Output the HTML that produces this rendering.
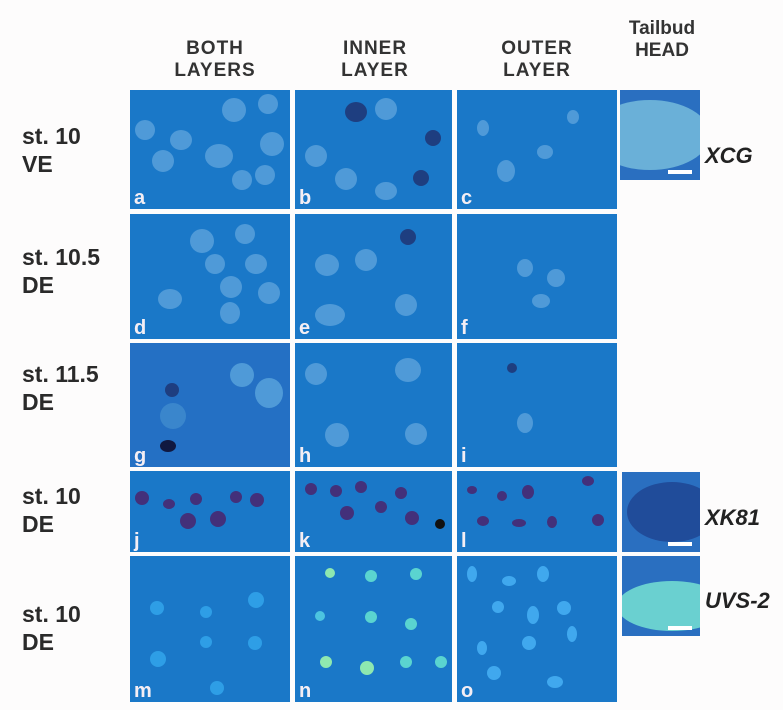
<!DOCTYPE html>
<html><head><meta charset="utf-8"><style>
body{margin:0;width:783px;height:710px;background:#fdfcfc;position:relative;overflow:hidden;font-family:"Liberation Sans",sans-serif;}
.h{position:absolute;font-weight:bold;font-size:19px;line-height:22px;text-align:center;color:#333;letter-spacing:1px}
.r{position:absolute;left:22px;font-weight:bold;font-size:23px;line-height:28px;color:#2a2a2a}
.p{position:absolute;background:#1a78c8;overflow:hidden}
.p .c{position:absolute;border-radius:50%}
.l{position:absolute;left:4px;bottom:0;color:#f4eef4;font-weight:bold;font-size:20px;line-height:22px}
.g{position:absolute;font-weight:bold;font-style:italic;font-size:22px;color:#222}
.sb{position:absolute;right:8px;bottom:6px;width:24px;height:4px;background:#fff}
</style></head><body>
<div class="h" style="left:150px;top:38px;width:130px">BOTH<br>LAYERS</div>
<div class="h" style="left:310px;top:38px;width:130px">INNER<br>LAYER</div>
<div class="h" style="left:472px;top:38px;width:130px">OUTER<br>LAYER</div>
<div class="h" style="left:612px;top:18px;width:100px;letter-spacing:0">Tailbud<br>HEAD</div>

<div class="r" style="top:122px">st. 10<br>VE</div>
<div class="r" style="top:243px">st. 10.5<br>DE</div>
<div class="r" style="top:360px">st. 11.5<br>DE</div>
<div class="r" style="top:482px">st. 10<br>DE</div>
<div class="r" style="top:600px">st. 10<br>DE</div>

<!-- row 1 -->
<div class="p" style="left:130px;top:90px;width:160px;height:119px">
<div class="c" style="left:5px;top:30px;width:20px;height:20px;background:#4f9ad8"></div>
<div class="c" style="left:40px;top:40px;width:22px;height:20px;background:#4f9ad8"></div>
<div class="c" style="left:22px;top:60px;width:22px;height:22px;background:#4f9ad8"></div>
<div class="c" style="left:75px;top:54px;width:28px;height:24px;background:#4f9ad8"></div>
<div class="c" style="left:92px;top:8px;width:24px;height:24px;background:#4f9ad8"></div>
<div class="c" style="left:128px;top:4px;width:20px;height:20px;background:#4f9ad8"></div>
<div class="c" style="left:130px;top:42px;width:24px;height:24px;background:#4f9ad8"></div>
<div class="c" style="left:102px;top:80px;width:20px;height:20px;background:#4f9ad8"></div>
<div class="c" style="left:125px;top:75px;width:20px;height:20px;background:#4f9ad8"></div>
<div class="l">a</div></div>
<div class="p" style="left:295px;top:90px;width:157px;height:119px">
<div class="c" style="left:50px;top:12px;width:22px;height:20px;background:#1e3e80"></div>
<div class="c" style="left:80px;top:8px;width:22px;height:22px;background:#4f9ad8"></div>
<div class="c" style="left:10px;top:55px;width:22px;height:22px;background:#4f9ad8"></div>
<div class="c" style="left:40px;top:78px;width:22px;height:22px;background:#4f9ad8"></div>
<div class="c" style="left:130px;top:40px;width:16px;height:16px;background:#1e3e80"></div>
<div class="c" style="left:118px;top:80px;width:16px;height:16px;background:#1e3e80"></div>
<div class="c" style="left:80px;top:92px;width:22px;height:18px;background:#4f9ad8"></div>
<div class="l">b</div></div>
<div class="p" style="left:457px;top:90px;width:160px;height:119px">
<div class="c" style="left:20px;top:30px;width:12px;height:16px;background:#4f9ad8"></div>
<div class="c" style="left:40px;top:70px;width:18px;height:22px;background:#4f9ad8"></div>
<div class="c" style="left:80px;top:55px;width:16px;height:14px;background:#4f9ad8"></div>
<div class="c" style="left:110px;top:20px;width:12px;height:14px;background:#4f9ad8"></div>
<div class="l">c</div></div>
<div class="p" style="left:620px;top:90px;width:80px;height:90px;background:#2a6fc0">
<div class="c" style="left:-30px;top:10px;width:120px;height:70px;background:#6ab0d8"></div>
<div class="sb"></div></div>
<div class="g" style="left:705px;top:143px">XCG</div>

<!-- row 2 -->
<div class="p" style="left:130px;top:214px;width:160px;height:125px">
<div class="c" style="left:60px;top:15px;width:24px;height:24px;background:#4f9ad8"></div>
<div class="c" style="left:105px;top:10px;width:20px;height:20px;background:#4f9ad8"></div>
<div class="c" style="left:75px;top:40px;width:20px;height:20px;background:#4f9ad8"></div>
<div class="c" style="left:115px;top:40px;width:22px;height:20px;background:#4f9ad8"></div>
<div class="c" style="left:90px;top:62px;width:22px;height:22px;background:#4f9ad8"></div>
<div class="c" style="left:128px;top:68px;width:22px;height:22px;background:#4f9ad8"></div>
<div class="c" style="left:28px;top:75px;width:24px;height:20px;background:#4f9ad8"></div>
<div class="c" style="left:90px;top:88px;width:20px;height:22px;background:#4f9ad8"></div>
<div class="l">d</div></div>
<div class="p" style="left:295px;top:214px;width:157px;height:125px">
<div class="c" style="left:20px;top:40px;width:24px;height:22px;background:#4f9ad8"></div>
<div class="c" style="left:60px;top:35px;width:22px;height:22px;background:#4f9ad8"></div>
<div class="c" style="left:105px;top:15px;width:16px;height:16px;background:#1e3e80"></div>
<div class="c" style="left:20px;top:90px;width:30px;height:22px;background:#4f9ad8"></div>
<div class="c" style="left:100px;top:80px;width:22px;height:22px;background:#4f9ad8"></div>
<div class="l">e</div></div>
<div class="p" style="left:457px;top:214px;width:160px;height:125px">
<div class="c" style="left:60px;top:45px;width:16px;height:18px;background:#4f9ad8"></div>
<div class="c" style="left:90px;top:55px;width:18px;height:18px;background:#4f9ad8"></div>
<div class="c" style="left:75px;top:80px;width:18px;height:14px;background:#4f9ad8"></div>
<div class="l">f</div></div>

<!-- row 3 -->
<div class="p" style="left:130px;top:343px;width:160px;height:124px;background:#2470c4">
<div class="c" style="left:100px;top:20px;width:24px;height:24px;background:#4f9ad8"></div>
<div class="c" style="left:125px;top:35px;width:28px;height:30px;background:#4f9ad8"></div>
<div class="c" style="left:35px;top:40px;width:14px;height:14px;background:#1e3e80"></div>
<div class="c" style="left:30px;top:97px;width:16px;height:12px;background:#101840"></div>
<div class="c" style="left:30px;top:60px;width:26px;height:26px;background:#3a86cc"></div>
<div class="l">g</div></div>
<div class="p" style="left:295px;top:343px;width:157px;height:124px">
<div class="c" style="left:10px;top:20px;width:22px;height:22px;background:#4f9ad8"></div>
<div class="c" style="left:100px;top:15px;width:26px;height:24px;background:#4f9ad8"></div>
<div class="c" style="left:30px;top:80px;width:24px;height:24px;background:#4f9ad8"></div>
<div class="c" style="left:110px;top:80px;width:22px;height:22px;background:#4f9ad8"></div>
<div class="l">h</div></div>
<div class="p" style="left:457px;top:343px;width:160px;height:124px">
<div class="c" style="left:50px;top:20px;width:10px;height:10px;background:#1e3e80"></div>
<div class="c" style="left:60px;top:70px;width:16px;height:20px;background:#4f9ad8"></div>
<div class="l">i</div></div>

<!-- row 4 -->
<div class="p" style="left:130px;top:471px;width:160px;height:81px">
<div class="c" style="left:5px;top:20px;width:14px;height:14px;background:#43307a"></div>
<div class="c" style="left:33px;top:28px;width:12px;height:10px;background:#43307a"></div>
<div class="c" style="left:60px;top:22px;width:12px;height:12px;background:#43307a"></div>
<div class="c" style="left:50px;top:42px;width:16px;height:16px;background:#43307a"></div>
<div class="c" style="left:80px;top:40px;width:16px;height:16px;background:#43307a"></div>
<div class="c" style="left:100px;top:20px;width:12px;height:12px;background:#43307a"></div>
<div class="c" style="left:120px;top:22px;width:14px;height:14px;background:#43307a"></div>
<div class="l">j</div></div>
<div class="p" style="left:295px;top:471px;width:157px;height:81px">
<div class="c" style="left:10px;top:12px;width:12px;height:12px;background:#43307a"></div>
<div class="c" style="left:35px;top:14px;width:12px;height:12px;background:#43307a"></div>
<div class="c" style="left:60px;top:10px;width:12px;height:12px;background:#43307a"></div>
<div class="c" style="left:45px;top:35px;width:14px;height:14px;background:#43307a"></div>
<div class="c" style="left:80px;top:30px;width:12px;height:12px;background:#43307a"></div>
<div class="c" style="left:100px;top:16px;width:12px;height:12px;background:#43307a"></div>
<div class="c" style="left:110px;top:40px;width:14px;height:14px;background:#43307a"></div>
<div class="c" style="left:140px;top:48px;width:10px;height:10px;background:#111"></div>
<div class="l">k</div></div>
<div class="p" style="left:457px;top:471px;width:160px;height:81px">
<div class="c" style="left:10px;top:15px;width:10px;height:8px;background:#43307a"></div>
<div class="c" style="left:40px;top:20px;width:10px;height:10px;background:#43307a"></div>
<div class="c" style="left:65px;top:14px;width:12px;height:14px;background:#43307a"></div>
<div class="c" style="left:125px;top:5px;width:12px;height:10px;background:#43307a"></div>
<div class="c" style="left:20px;top:45px;width:12px;height:10px;background:#43307a"></div>
<div class="c" style="left:55px;top:48px;width:14px;height:8px;background:#43307a"></div>
<div class="c" style="left:90px;top:45px;width:10px;height:12px;background:#43307a"></div>
<div class="c" style="left:135px;top:43px;width:12px;height:12px;background:#43307a"></div>
<div class="l">l</div></div>
<div class="p" style="left:622px;top:472px;width:78px;height:80px;background:#2a6fc0">
<div class="c" style="left:5px;top:10px;width:90px;height:60px;background:#204c9a"></div>
<div class="sb"></div></div>
<div class="g" style="left:705px;top:505px">XK81</div>

<!-- row 5 -->
<div class="p" style="left:130px;top:556px;width:160px;height:146px">
<div class="c" style="left:20px;top:45px;width:14px;height:14px;background:#2e9ee6"></div>
<div class="c" style="left:70px;top:50px;width:12px;height:12px;background:#2e9ee6"></div>
<div class="c" style="left:118px;top:36px;width:16px;height:16px;background:#2e9ee6"></div>
<div class="c" style="left:20px;top:95px;width:16px;height:16px;background:#2e9ee6"></div>
<div class="c" style="left:70px;top:80px;width:12px;height:12px;background:#2e9ee6"></div>
<div class="c" style="left:118px;top:80px;width:14px;height:14px;background:#2e9ee6"></div>
<div class="c" style="left:80px;top:125px;width:14px;height:14px;background:#2e9ee6"></div>
<div class="l">m</div></div>
<div class="p" style="left:295px;top:556px;width:157px;height:146px">
<div class="c" style="left:30px;top:12px;width:10px;height:10px;background:#8ee8b0"></div>
<div class="c" style="left:70px;top:14px;width:12px;height:12px;background:#5ad4d0"></div>
<div class="c" style="left:115px;top:12px;width:12px;height:12px;background:#5ad4d0"></div>
<div class="c" style="left:20px;top:55px;width:10px;height:10px;background:#4cc4e0"></div>
<div class="c" style="left:70px;top:55px;width:12px;height:12px;background:#5ad4d0"></div>
<div class="c" style="left:110px;top:62px;width:12px;height:12px;background:#5ad4d0"></div>
<div class="c" style="left:25px;top:100px;width:12px;height:12px;background:#8ee8b0"></div>
<div class="c" style="left:65px;top:105px;width:14px;height:14px;background:#8ee8b0"></div>
<div class="c" style="left:105px;top:100px;width:12px;height:12px;background:#5ad4d0"></div>
<div class="c" style="left:140px;top:100px;width:12px;height:12px;background:#5ad4d0"></div>
<div class="l">n</div></div>
<div class="p" style="left:457px;top:556px;width:160px;height:146px">
<div class="c" style="left:10px;top:10px;width:10px;height:16px;background:#40a8ee"></div>
<div class="c" style="left:45px;top:20px;width:14px;height:10px;background:#40a8ee"></div>
<div class="c" style="left:80px;top:10px;width:12px;height:16px;background:#40a8ee"></div>
<div class="c" style="left:35px;top:45px;width:12px;height:12px;background:#40a8ee"></div>
<div class="c" style="left:70px;top:50px;width:12px;height:18px;background:#40a8ee"></div>
<div class="c" style="left:100px;top:45px;width:14px;height:14px;background:#40a8ee"></div>
<div class="c" style="left:20px;top:85px;width:10px;height:14px;background:#40a8ee"></div>
<div class="c" style="left:65px;top:80px;width:14px;height:14px;background:#40a8ee"></div>
<div class="c" style="left:110px;top:70px;width:10px;height:16px;background:#40a8ee"></div>
<div class="c" style="left:30px;top:110px;width:14px;height:14px;background:#40a8ee"></div>
<div class="c" style="left:90px;top:120px;width:16px;height:12px;background:#40a8ee"></div>
<div class="l">o</div></div>
<div class="p" style="left:622px;top:556px;width:78px;height:80px;background:#2a6fc0">
<div class="c" style="left:-5px;top:25px;width:110px;height:50px;background:#6ad0d0"></div>
<div class="sb"></div></div>
<div class="g" style="left:705px;top:588px">UVS-2</div>
</body></html>
